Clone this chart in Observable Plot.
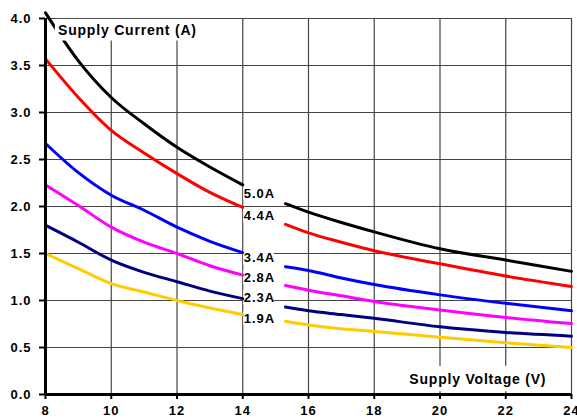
<!DOCTYPE html>
<html>
<head>
<meta charset="utf-8">
<script src="https://cdn.jsdelivr.net/npm/d3@7"></script>
<script src="https://cdn.jsdelivr.net/npm/@observablehq/plot@0.6"></script>
<style>
  html, body { margin: 0; padding: 0; background: #fff; }
  #chart svg { display: block; }
  #chart svg text { letter-spacing: 1px; }
  #chart svg g.title text { letter-spacing: 0.8px; }
</style>
</head>
<body>
<div id="chart"></div>
<script>
// ---- data ----
const seriesNames = ["5.0A", "4.4A", "3.4A", "2.8A", "2.3A", "1.9A"];
const seriesColors = ["#000000", "#ff0000", "#0000ff", "#ff00ff", "#000080", "#ffcc00"];

const leftVoltage = [8, 9, 10, 11, 12, 13, 14];
const rightVoltage = [15.3, 16, 17, 18, 20, 22, 24];

const leftCurrent = [
  [4.06, 3.55, 3.16, 2.88, 2.63, 2.42, 2.23],
  [3.57, 3.16, 2.81, 2.57, 2.35, 2.15, 1.99],
  [2.67, 2.36, 2.12, 1.96, 1.78, 1.63, 1.51],
  [2.23, 2.01, 1.78, 1.62, 1.50, 1.37, 1.27],
  [1.80, 1.62, 1.43, 1.30, 1.20, 1.10, 1.02],
  [1.50, 1.34, 1.18, 1.09, 1.00, 0.92, 0.85]
];
const rightCurrent = [
  [2.03, 1.94, 1.83, 1.73, 1.55, 1.43, 1.31],
  [1.81, 1.72, 1.62, 1.53, 1.39, 1.26, 1.15],
  [1.36, 1.32, 1.24, 1.17, 1.06, 0.97, 0.89],
  [1.16, 1.11, 1.05, 0.99, 0.90, 0.82, 0.755],
  [0.93, 0.89, 0.85, 0.81, 0.72, 0.66, 0.62],
  [0.78, 0.74, 0.70, 0.67, 0.61, 0.55, 0.50]
];

// curve labels placed at the break (x = 14)
const labelX = 14;
const labelY = [2.14, 1.90, 1.45, 1.24, 1.03, 0.81];

const xTicks = [8, 10, 12, 14, 16, 18, 20, 22, 24];
const yTicks = [0, 0.5, 1, 1.5, 2, 2.5, 3, 3.5, 4];

const yTitle = "Supply Current (A)";
const xTitle = "Supply Voltage (V)";
// annotation boxes in data units
const yTitleBox = {x1: 8.3, x2: 12.85, y1: 3.76, y2: 3.99, tx: 8.38, ty: 3.87};
const xTitleBox = {x1: 18.9, x2: 23.4, y1: 0.03, y2: 0.30, tx: 21.15, ty: 0.16};

// ---- build tables ----
const leftRows = [], rightRows = [];
seriesNames.forEach((s, i) => {
  leftVoltage.forEach((v, j) => leftRows.push({series: s, v, a: leftCurrent[i][j]}));
  rightVoltage.forEach((v, j) => rightRows.push({series: s, v, a: rightCurrent[i][j]}));
});
const labelRows = seriesNames.map((s, i) => ({series: s, x: labelX, y: labelY[i]}));

const lineOpts = {x: "v", y: "a", z: "series", stroke: "series", strokeWidth: 3, curve: "monotone-x"};

const chart = Plot.plot({
  width: 577,
  height: 419,
  marginLeft: 45,
  marginRight: 6,
  marginTop: 18,
  marginBottom: 25,
  style: {fontFamily: "'Liberation Sans', Arial, sans-serif", fontWeight: "bold", color: "#000", background: "#fff"},
  x: {domain: [8, 24], label: null},
  y: {domain: [0, 4], label: null},
  color: {domain: seriesNames, range: seriesColors},
  marks: [
    Plot.gridX(xTicks, {stroke: "#444", strokeOpacity: 1, strokeWidth: 1.2}),
    Plot.gridY(yTicks, {stroke: "#444", strokeOpacity: 1, strokeWidth: 1.2}),
    Plot.rect(labelRows, {x1: d => d.x + 0.03, x2: d => d.x + 0.95, y1: d => d.y - 0.075, y2: d => d.y + 0.075, fill: "#fff"}),
    Plot.line(leftRows, lineOpts),
    Plot.line(rightRows, lineOpts),
    Plot.text(labelRows, {x: "x", y: "y", text: "series", textAnchor: "start", dx: 1, fontSize: 13, fontWeight: "bold", fill: "#000"}),
    Plot.rect([yTitleBox], {x1: "x1", x2: "x2", y1: "y1", y2: "y2", fill: "#fff"}),
    Plot.text([yTitleBox], {x: "tx", y: "ty", text: () => yTitle, textAnchor: "start", fontSize: 14, fontWeight: "bold", fill: "#000", className: "title"}),
    Plot.rect([xTitleBox], {x1: "x1", x2: "x2", y1: "y1", y2: "y2", fill: "#fff"}),
    Plot.text([xTitleBox], {x: "tx", y: "ty", text: () => xTitle, textAnchor: "middle", fontSize: 14, fontWeight: "bold", fill: "#000", className: "title"}),
    Plot.ruleX([8], {stroke: "#000", strokeWidth: 3}),
    Plot.ruleY([0], {stroke: "#000", strokeWidth: 3}),
    Plot.axisY(yTicks, {tickSize: 6, tickPadding: 8, tickFormat: d3.format(".1f"), fontSize: 13, fontWeight: "bold", stroke: "#000", strokeWidth: 2}),
    Plot.axisX(xTicks, {tickSize: 5, tickPadding: 6, tickFormat: d3.format("d"), fontSize: 13, fontWeight: "bold", stroke: "#000", strokeWidth: 2})
  ]
});
document.getElementById("chart").appendChild(chart);
</script>
</body>
</html>
